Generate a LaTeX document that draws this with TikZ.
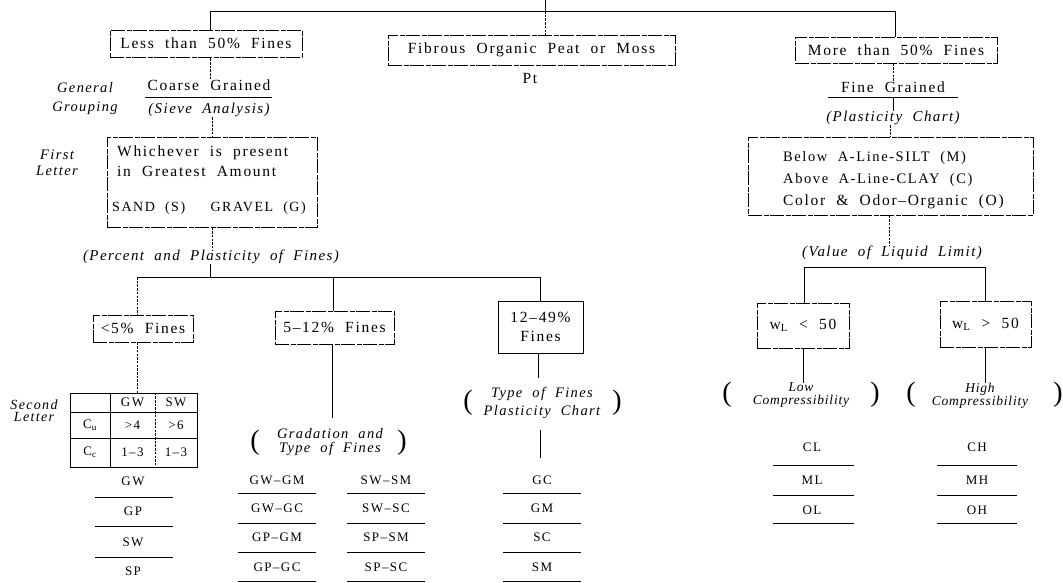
\documentclass[tikz,border=0pt]{standalone}
\usepackage{fontspec}
\setmainfont{Liberation Serif}[LetterSpace=11,WordSpace=2]
\newcommand{\itf}[2]{\fontsize{#1}{#2}\selectfont\itshape\addfontfeatures{LetterSpace=9.5}}
\begin{document}
\begin{tikzpicture}[x=1pt,y=-1pt,
  lbl/.style={inner sep=0pt, font=\fontsize{15.5}{17}\selectfont},
  nlbl/.style={inner sep=0pt, font=\fontsize{14.5}{17}\selectfont},
  snd/.style={inner sep=0pt, font=\fontsize{14}{16}\selectfont},
  sml/.style={inner sep=0pt, font=\fontsize{13}{14}\selectfont},
  itl/.style={inner sep=0pt, align=center, font=\itf{15}{16}},
  box/.style={draw, line width=0.8pt, inner sep=0pt, font=\fontsize{15.5}{17}\selectfont, dash pattern=on 14pt off 1.5pt on 5pt off 1.5pt},
  sbox/.style={draw, line width=0.8pt, inner sep=0pt, font=\fontsize{15.5}{17}\selectfont},
  con/.style={line width=0.8pt},
  dcon/.style={line width=0.7pt, dash pattern=on 2.5pt off 1.2pt},
  rule/.style={line width=0.8pt},
  paren/.style={inner sep=0pt, font=\fontsize{28}{28}\selectfont}
]
\useasboundingbox (0,0) rectangle (1063,582);

% ---------- top level ----------
\coordinate (top) at (545,0);
\coordinate (jm) at (545,11);
\coordinate (jl) at (210,11);
\coordinate (jr) at (895,11);
\node[box, minimum width=192pt, minimum height=27pt] (less) at (206,43.5) {Less than 50\% Fines};
\node[box, minimum width=287pt, minimum height=30pt] (peat) at (531.5,50) {Fibrous Organic Peat or Moss};
\node[box, minimum width=202pt, minimum height=26pt] (more) at (896,50) {More than 50\% Fines};
\node[lbl] (pt) at (530,78) {Pt};
\draw[con] (top) -- (jm);
\draw[con] (jl) -- (jr);
\draw[con] (jl) -- (jl |- less.north);
\draw[dcon] (jm) -- (jm |- peat.north);
\draw[con] (jr) -- (jr |- more.north);

% ---------- coarse grained ----------
\node[itl, font=\itf{14.5}{19}] (gg) at (85,99) {General\\Grouping};
\node[lbl] (coarse) at (209,85) {Coarse Grained};
\coordinate (ul1a) at (145,97);
\coordinate (ul1b) at (272,97);
\draw[rule] (ul1a) -- (ul1b);
\node[itl] (sieve) at (209,110) {(Sieve Analysis)};
\draw[dcon] (coarse.north -| jl) -- (less.south -| jl);

\node[itl, font=\itf{14.5}{16}] (fl) at (57,163) {First\\Letter};
\node[box, minimum width=210pt, minimum height=90pt] (which) at (212,182) {};
\node[lbl, anchor=west] (w1) at (117,153) {Whichever is present};
\node[lbl, anchor=west] (w2) at (117,171) {in Greatest Amount};
\node[snd, anchor=west] (sand) at (112,208) {SAND (S)};
\node[snd, anchor=east] (gravel) at (306,208) {GRAVEL (G)};
\draw[dcon] (which.north |- sieve.south) -- (which.north);

\node[itl] (pct) at (211,257) {(Percent and Plasticity of Fines)};
\draw[dcon] (which.south) -- (which.south |- pct.north);
\coordinate (jp) at (210,277);
\coordinate (jp1) at (137,277);
\coordinate (jp2) at (333,277);
\coordinate (jp3) at (540,277);
\draw[con] (jp |- pct.south) -- (jp);
\draw[con] (jp1) -- (jp3);

\node[box, minimum width=100pt, minimum height=27pt] (lt5) at (143,328.5) {<5\% Fines};
\node[box, minimum width=119pt, minimum height=33pt] (f512) at (334.5,327.5) {5\textendash12\% Fines};
\node[sbox, minimum width=85pt, minimum height=52pt, align=center, font=\fontsize{15.5}{19}\selectfont] (f1249) at (540.5,327) {12\textendash49\%\\Fines};
\draw[dcon] (jp1) -- (jp1 |- lt5.north);
\draw[con] (jp2) -- (jp2 |- f512.north);
\draw[con] (jp3) -- (jp3 |- f1249.north);

% ---------- second letter table ----------
\node[itl, font=\itf{14}{12}] (sl) at (34,411) {Second\\Letter};
\node[sbox, minimum width=127pt, minimum height=74pt] (tbl) at (133.5,430) {};
\draw[con] (tbl.west |- 0,412) -- (tbl.east |- 0,412);
\draw[con] (tbl.west |- 0,438) -- (tbl.east |- 0,438);
\draw[con] (tbl.north -| 110,0) -- (tbl.south -| 110,0);
\draw[dcon] (tbl.north -| 155,0) -- (tbl.south -| 155,0);
\node[sml] (hgw) at (132.5,402.5) {GW};
\node[sml] (hsw) at (176,402.5) {SW};
\node[sml] (cu) at (90,425) {C\textsubscript{u}};
\node[sml] (cu1) at (132.5,425) {>4};
\node[sml] (cu2) at (176,425) {>6};
\node[sml] (cc) at (90,452.5) {C\textsubscript{c}};
\node[sml] (cc1) at (132.5,452.5) {1\textendash3};
\node[sml] (cc2) at (176,452.5) {1\textendash3};
\draw[dcon] (lt5.south -| jp1) -- (tbl.north -| jp1);

\node[sml] (gw) at (133,481) {GW};
\draw[rule] (95,497) -- (173,497);
\node[sml] (gp) at (133,511) {GP};
\draw[rule] (95,526) -- (173,526);
\node[sml] (sw) at (133,542) {SW};
\draw[rule] (95,557) -- (173,557);
\node[sml] (sp) at (133,571) {SP};

% ---------- 5-12% ----------
\coordinate (g1) at (332,418);
\draw[con] (f512.south -| g1) -- (g1);
\node[itl, font=\itf{14.5}{14}] (grad) at (330,442) {Gradation and\\Type of Fines};
\node[paren] (gpa) at (255,443) {(};
\node[paren] (gpb) at (402,443) {)};
\foreach \t/\y in {GW\textendash GM/480, GW\textendash GC/508, GP\textendash GM/537, GP\textendash GC/567}
  \node[sml] at (277,\y) {\t};
\foreach \t/\y in {SW\textendash SM/480, SW\textendash SC/508, SP\textendash SM/537, SP\textendash SC/567}
  \node[sml] at (386,\y) {\t};
\foreach \y in {493,523,552,581} {
  \draw[rule] (238,\y) -- (316,\y);
  \draw[rule] (347,\y) -- (425,\y);
}

% ---------- 12-49% ----------
\coordinate (t1) at (538,378);
\draw[con] (f1249.south -| t1) -- (t1);
\node[itl, font=\itf{14.5}{18}] (tof) at (542,403) {Type of Fines\\Plasticity Chart};
\node[paren] (tpa) at (468,403) {(};
\node[paren] (tpb) at (617,403) {)};
\coordinate (t2a) at (540,430);
\coordinate (t2b) at (540,458);
\draw[con] (t2a) -- (t2b);
\node[sml] (gc) at (542,480) {GC};
\node[sml] (gm) at (542,508) {GM};
\node[sml] (sc) at (542,537) {SC};
\node[sml] (sm) at (542,567) {SM};
\foreach \y in {493,523,552,581}
  \draw[rule] (503,\y) -- (581,\y);

% ---------- fine grained ----------
\node[lbl] (fine) at (893,87) {Fine Grained};
\draw[dcon] (fine.north |- more.south) -- (fine.north);
\coordinate (ul2a) at (828,97);
\coordinate (ul2b) at (958,97);
\draw[rule] (ul2a) -- (ul2b);
\node[itl] (plast) at (893,118) {(Plasticity Chart)};
\draw[con] (893,97) -- (plast.north);
\node[box, minimum width=285pt, minimum height=78pt] (below) at (890.5,176) {};
\node[nlbl, anchor=west] (b1) at (783,158) {Below A-Line-SILT (M)};
\node[nlbl, anchor=west] (b2) at (783,180) {Above A-Line-CLAY (C)};
\node[lbl, anchor=west] (b3) at (783,202) {Color \& Odor\textendash Organic (O)};
\draw[dcon] (plast.south -| below.north) -- (below.north);

\node[itl] (vll) at (892,253) {(Value of Liquid Limit)};
\draw[dcon] (below.south -| 889,0) -- (vll.north -| 889,0);
\coordinate (jv1) at (804,267);
\coordinate (jv2) at (985,267);
\draw[con] (jv1) -- (jv2);
\node[box, minimum width=92pt, minimum height=45pt] (wl1) at (803,325.5) {w\textsubscript{L} < 50};
\node[box, minimum width=91pt, minimum height=46pt] (wl2) at (985.5,324) {w\textsubscript{L} > 50};
\draw[con] (jv1) -- (jv1 |- wl1.north);
\draw[con] (jv2) -- (jv2 |- wl2.north);
\coordinate (l1) at (803,383);
\coordinate (h1) at (985,383);
\draw[con] (wl1.south -| l1) -- (l1);
\draw[con] (wl2.south -| h1) -- (h1);

\node[itl, font=\fontsize{13.5}{13}\selectfont\itshape\addfontfeatures{LetterSpace=6}] (low) at (801,395.5) {Low\\Compressibility};
\node[paren] (lpa) at (727,395) {(};
\node[paren] (lpb) at (875,395) {)};
\node[itl, font=\fontsize{13.5}{13}\selectfont\itshape\addfontfeatures{LetterSpace=6}] (high) at (980,395.5) {High\\Compressibility};
\node[paren] (hpa) at (911,395) {(};
\node[paren] (hpb) at (1058,395) {)};

\node[sml] (cl) at (812,447) {CL};
\node[sml] (ml) at (812,480) {ML};
\node[sml] (ol) at (812,510) {OL};
\node[sml] (ch) at (977,447) {CH};
\node[sml] (mh) at (977,480) {MH};
\node[sml] (oh) at (977,510) {OH};
\foreach \y in {465,495,523} {
  \draw[rule] (773,\y) -- (854,\y);
  \draw[rule] (937,\y) -- (1017,\y);
}
\end{tikzpicture}
\end{document}
